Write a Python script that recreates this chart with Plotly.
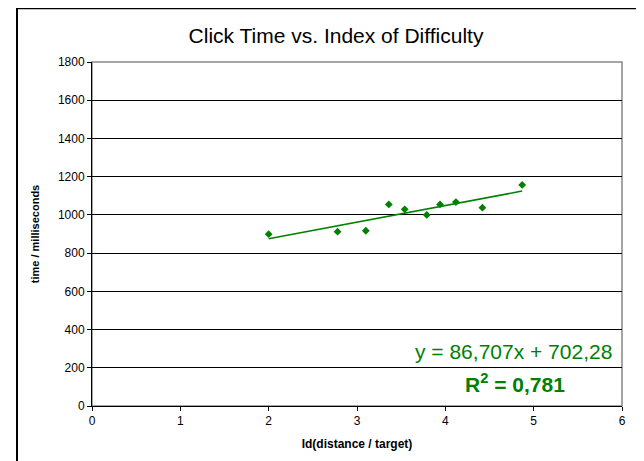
import plotly.graph_objects as go

# Data
id_values = [2.00, 2.78, 3.10, 3.36, 3.54, 3.79, 3.94, 4.12, 4.42, 4.87]
time_ms = [899, 912, 917, 1055, 1029, 1000, 1055, 1067, 1038, 1157]

# Trendline coefficients shown on the chart
trend_slope = 86.707
trend_intercept = 702.28
r_squared = "0,781"

x_ticks = [0, 1, 2, 3, 4, 5, 6]
y_ticks = list(range(0, 2000, 200))

GREEN = "#008000"
FONT = "Liberation Sans, Arial, sans-serif"

# The page body has an 8px margin, so the figure is laid out in page pixels minus 8
OFF = 8
W, H = 644 - OFF, 461 - OFF
PL, PR, PT, PB = 92 - OFF, 622 - OFF, 62 - OFF, 407.7 - OFF  # plot area in figure px
PW, PH = PR - PL, PB - PT


def px_x(page_x):
    return (page_x - OFF - PL) / PW


def px_y(page_y):
    return (PB - (page_y - OFF)) / PH


trend_x = [min(id_values), max(id_values)]
trend_y = [trend_slope * v + trend_intercept for v in trend_x]

fig = go.Figure()
fig.add_trace(go.Scatter(
    x=trend_x, y=trend_y, mode="lines",
    line=dict(color=GREEN, width=1.5), hoverinfo="skip", showlegend=False))
fig.add_trace(go.Scatter(
    x=id_values, y=time_ms, mode="markers",
    marker=dict(symbol="diamond", size=6, color=GREEN), showlegend=False))

fig.update_layout(
    width=W, height=H,
    margin=dict(l=PL, r=W - PR, t=PT, b=H - PB),
    paper_bgcolor="white", plot_bgcolor="white",
    font=dict(family=FONT, color="black", size=12),
    title=dict(text="Click Time vs. Index of Difficulty", x=(336 - OFF) / W, xanchor="center",
               y=1 - (36 - OFF) / H, yanchor="middle", font=dict(size=21, family=FONT)),
    showlegend=False,
)
fig.update_xaxes(
    range=[0, 6], tickvals=x_ticks, ticks="outside", ticklen=4, tickcolor="black",
    showline=True, linecolor="black", linewidth=1, showgrid=False, zeroline=False,
    tickfont=dict(size=12),
    title=dict(text="<b>Id(distance / target)</b>", font=dict(size=12), standoff=12),
)
fig.update_yaxes(
    range=[0, 1800], tickvals=y_ticks, ticks="outside", ticklen=4, tickcolor="black",
    showline=True, linecolor="black", linewidth=1, showgrid=True, gridcolor="black",
    gridwidth=1, zeroline=False, tickfont=dict(size=12),
    title=dict(text="<b>time / milliseconds</b>", font=dict(size=11), standoff=16),
)

# Plot area border (gray top/right)
fig.add_shape(type="rect", xref="x domain", yref="y domain", x0=0, x1=1, y0=0, y1=1,
              line=dict(color="#888888", width=1.5), layer="below")
# Outer chart border
fig.add_shape(type="rect", xref="paper", yref="paper",
              x0=px_x(17), x1=1.2, y0=-0.3, y1=px_y(8),
              line=dict(color="black", width=2), layer="below")

fig.add_annotation(
    xref="paper", yref="paper", x=px_x(614), y=px_y(353),
    xanchor="right", yanchor="middle", showarrow=False,
    text=f"y = {trend_slope:.3f}x + {trend_intercept:.2f}".replace(".", ","),
    font=dict(size=21, color=GREEN, family=FONT))
fig.add_annotation(
    xref="paper", yref="paper", x=px_x(515), y=px_y(385),
    xanchor="center", yanchor="middle", showarrow=False,
    text=f"<b>R<sup>2</sup> = {r_squared}</b>",
    font=dict(size=21, color=GREEN, family=FONT))

fig.write_html("out.html")
